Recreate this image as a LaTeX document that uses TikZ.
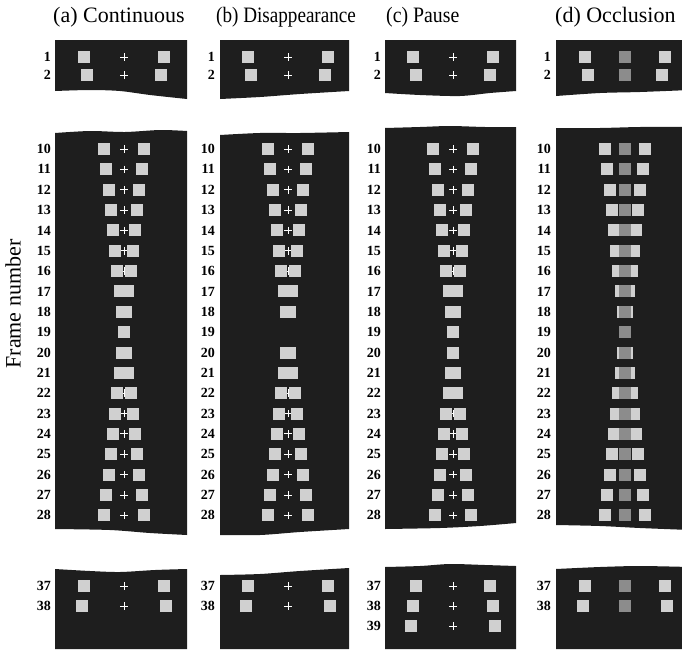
\documentclass[tikz,border=0pt]{standalone}
\usepackage{fontspec}
\setmainfont{Liberation Serif}
\begin{document}
\begin{tikzpicture}[x=1pt,y=-1pt]
\definecolor{panel}{HTML}{1E1E1E}
\definecolor{sqc}{HTML}{D0D0D0}
\definecolor{occ}{HTML}{8C8C8C}
\tikzset{
  panelbox/.style={fill=panel},
  stim/.style={fill=sqc},
  occluder/.style={fill=occ},
  rowlab/.style={anchor=east, font=\bfseries\fontsize{14}{14}\selectfont, inner sep=0pt},
  titlelab/.style={anchor=west, font=\fontsize{22}{22}\selectfont, inner sep=0pt},
  fixcross/.style={draw=white, line width=0.9pt}
}
\useasboundingbox (0,0) rectangle (682,651);
\clip (0,0) rectangle (682,651);
\newcommand\fixcr[2]{\draw[fixcross] ({#1-3.8},#2) -- ({#1+3.8},#2) (#1,{#2-3.8}) -- (#1,{#2+3.8});}
\newcommand\twosq[3]{%
  \fill[stim] ({#1-#3-6},{#2-6}) rectangle ({#1-#3+6},{#2+6});
  \fill[stim] ({#1+#3-6},{#2-6}) rectangle ({#1+#3+6},{#2+6});}
\def\rowsmain{1/57,2/75,10/149,11/169.35,12/189.7,13/210.05,14/230.4,15/250.75,16/271.1,17/291.45,18/311.8,19/332.15,20/352.5,21/372.85,22/393.2,23/413.55,24/433.9,25/454.25,26/474.6,27/494.95,28/515.3,37/586,38/606}
\def\rowspause{1/57,2/75,10/149,11/169.35,12/189.7,13/210.05,14/230.4,15/250.75,16/271.1,17/291.45,18/311.8,19/332.15,20/352.5,21/372.85,22/393.2,23/413.55,24/433.9,25/454.25,26/474.6,27/494.95,28/515.3,37/586,38/606,39/626}

% titles
\node[titlelab] (ta) at (53,17) {(a) Continuous};
\node[titlelab, xscale=0.87] (tb) at (216,17) {(b) Disappearance};
\node[titlelab, xscale=0.9] (tc) at (386,17) {(c) Pause};
\node[titlelab] (td) at (555,17) {(d) Occlusion};
\node[rotate=90, font=\fontsize{22}{22}\selectfont, inner sep=0pt] (fn) at (13,304) {Frame number};

% panels (a)
\fill[panelbox] (55,40) -- (187,40) -- plot[smooth] coordinates {(187,99) (150,95) (120,91) (90,90) (55,91)} -- cycle;
\fill[panelbox] plot[smooth] coordinates {(55,133) (90,131) (125,132) (160,130) (187,131)} -- plot[smooth] coordinates {(187,535) (150,533) (110,530) (55,529)} -- cycle;
\fill[panelbox] plot[smooth] coordinates {(55,569) (90,571) (120,572) (155,570) (187,569)} -- (187,649) -- (55,649) -- cycle;
% panels (b)
\fill[panelbox] (220,40) -- (349,40) -- plot[smooth] coordinates {(349,91) (300,94) (260,97) (220,99)} -- cycle;
\fill[panelbox] plot[smooth] coordinates {(220,135) (260,133) (300,133) (349,132)} -- plot[smooth] coordinates {(349,529) (300,532) (260,535) (220,535)} -- cycle;
\fill[panelbox] plot[smooth] coordinates {(220,575) (260,574) (300,571) (349,568)} -- (349,649) -- (220,649) -- cycle;
% panels (c)
\fill[panelbox] (385,40) -- (516,40) -- plot[smooth] coordinates {(516,91) (490,93) (460,96) (420,95) (385,93)} -- cycle;
\fill[panelbox] plot[smooth] coordinates {(385,128) (420,127) (450,126) (485,127) (516,127)} -- plot[smooth] coordinates {(516,523) (480,526) (440,528) (385,529)} -- cycle;
\fill[panelbox] plot[smooth] coordinates {(385,567) (420,566) (450,564) (485,565) (516,566)} -- (516,649) -- (385,649) -- cycle;
% panels (d)
\fill[panelbox] (556,40) -- (690,40) -- plot[smooth] coordinates {(690,90) (640,92) (600,93) (556,96)} -- cycle;
\fill[panelbox] plot[smooth] coordinates {(556,128) (600,128) (640,127) (690,127)} -- plot[smooth] coordinates {(690,530) (640,528) (600,526) (556,525)} -- cycle;
\fill[panelbox] plot[smooth] coordinates {(556,569) (600,567) (640,566) (690,567)} -- (690,649) -- (556,649) -- cycle;

% (a) continuous
\foreach \k/\y in \rowsmain {
  \pgfmathsetmacro\off{abs(19-\k)*2.2}
  \fixcr{124}{\y}
  \twosq{124}{\y}{\off}
  \node[rowlab] at (51,\y) {\k};
}
% (b) disappearance
\foreach \k/\y in \rowsmain {
  \pgfmathsetmacro\off{abs(19-\k)*2.2}
  \ifnum\k=19\relax\else
    \fixcr{288}{\y}
    \twosq{288}{\y}{\off}
  \fi
  \node[rowlab] at (215,\y) {\k};
}
% (c) pause
\foreach \k/\y in \rowspause {
  \pgfmathsetmacro\off{(\k<=19)*(19-\k)*2.2+(\k>19)*(\k-20)*2.2}
  \fixcr{453}{\y}
  \twosq{453}{\y}{\off}
  \node[rowlab] at (381,\y) {\k};
}
% (d) occlusion
\foreach \k/\y in \rowsmain {
  \pgfmathsetmacro\off{abs(19-\k)*2.2}
  \twosq{625}{\y}{\off}
  \fill[occluder] ({625-6},{\y-6}) rectangle ({625+6},{\y+6});
  \node[rowlab] at (551,\y) {\k};
}
\end{tikzpicture}
\end{document}
